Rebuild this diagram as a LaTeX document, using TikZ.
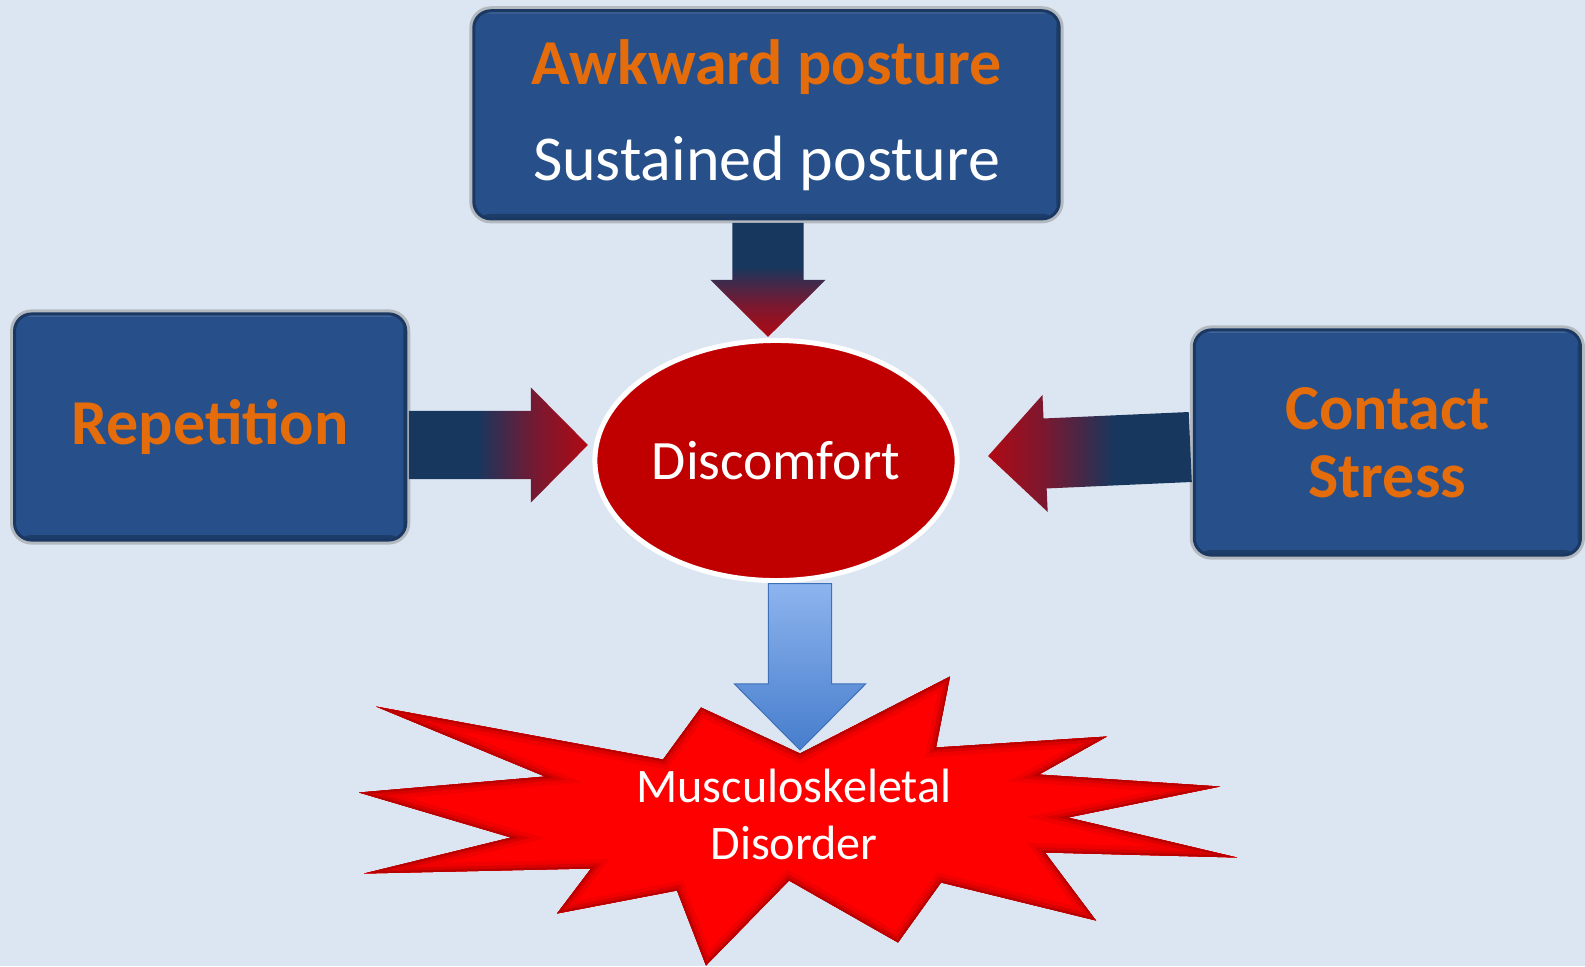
\documentclass[tikz,border=0pt]{standalone}
\usepackage{fontspec}
\setmainfont{Carlito}
\usetikzlibrary{calc}
\usetikzlibrary{shapes, backgrounds}
\usetikzlibrary{positioning}

\definecolor{bgblue}{HTML}{DCE6F2}
\definecolor{boxblue}{HTML}{27508A}
\definecolor{boxline}{HTML}{1A3862}
\definecolor{rimgray}{HTML}{B4B9C0}
\definecolor{accent}{HTML}{E46C0A}
\definecolor{discred}{HTML}{C00000}
\definecolor{arrownavy}{HTML}{17375E}
\definecolor{arrowwine}{HTML}{7A1830}
\definecolor{arrowred}{HTML}{B00A14}
\definecolor{flowtop}{HTML}{8DB4EE}
\definecolor{flowbot}{HTML}{467DCC}
\definecolor{burstred}{HTML}{FF0000}

\pgfdeclarehorizontalshading{navytored}{100bp}{color(0bp)=(arrownavy); color(44bp)=(arrownavy); color(61bp)=(arrowwine); color(75bp)=(arrowred); color(100bp)=(arrowred)}
\pgfdeclarehorizontalshading{redtonavy}{100bp}{color(0bp)=(arrowred); color(25bp)=(arrowred); color(39bp)=(arrowwine); color(56bp)=(arrownavy); color(100bp)=(arrownavy)}
\pgfdeclareverticalshading{navydown}{100bp}{color(0bp)=(arrowred); color(25bp)=(arrowred); color(39bp)=(arrowwine); color(56bp)=(arrownavy); color(100bp)=(arrownavy)}

\tikzset{
    factor/.style={
           rectangle,
           rounded corners=0.17cm,
           fill=boxblue,
           draw=boxline, line width=0.03cm,
           preaction={draw=rimgray, line width=0.09cm},
           path picture={
             \fill[boxline, opacity=0.8] ([yshift=0.05cm]path picture bounding box.south west)
               rectangle (path picture bounding box.south east);
             \fill[boxline, opacity=0.6] ([xshift=-0.03cm]path picture bounding box.north east)
               rectangle (path picture bounding box.south east);
             \fill[white, opacity=0.12] ([yshift=-0.03cm]path picture bounding box.north west)
               rectangle (path picture bounding box.north east);
           },
           text=accent,
           font=\fontsize{18.2}{19.4}\selectfont\bfseries,
           align=center,
           inner sep=0pt, outer sep=0pt,
           },
    symptom/.style={
           ellipse,
           fill=discred,
           draw=white, line width=0.05cm,
           text=white,
           font=\fontsize{15.8}{19}\selectfont,
           minimum width=3.62cm, minimum height=2.40cm,
           inner sep=0pt, outer sep=0pt,
           },
    outcome/.style={
           text=white,
           font=\fontsize{13.7}{16.4}\selectfont,
           align=center,
           },
    burstshape/.style={
           insert path={(-418,-108) -- (-131,-55) -- (-93,-107) -- (6,-61) -- (156,-138)
             -- (142,-67) -- (313,-78) -- (245,-40) -- (426,-28) -- (274,3) -- (443,43)
             -- (251,38) -- (302,106) -- (147,68) -- (104,128) -- (-5,66) -- (-88,151)
             -- (-117,76) -- (-237,99) -- (-203,54) -- (-430,59) -- (-283,23) -- (-435,-22)
             -- (-249,-38) -- cycle},
           },
}

% #1 style, #2 from, #3 tip, #4 shaft half width, #5 head half width, #6 head length
\newcommand{\fatarrow}[6]{%
  \coordinate (hb) at ($(#3)!#6!(#2)$);
  \path[#1] ($(#2)!#4!90:(#3)$) -- ($(hb)!#4!90:(#3)$) -- ($(hb)!#5!90:(#3)$) -- (#3)
     -- ($(hb)!#5!-90:(#3)$) -- ($(hb)!#4!-90:(#3)$) -- ($(#2)!#4!-90:(#3)$) -- cycle;
}

\begin{document}
\begin{tikzpicture}[x=0.01cm, y=-0.01cm]
      \useasboundingbox (0,0) rectangle (1585,966);
      \fill[bgblue] (0,0) rectangle (1585,966);

      \node[symptom] (disc) at (776,460.5) {Discomfort};
      \node[factor, text=white, font=\fontsize{18.2}{27.3}\selectfont,
            minimum width=5.85cm, minimum height=2.08cm]
            (awk) [above=1.215cm of disc, xshift=-0.095cm]
            {{\bfseries\color{accent}Awkward posture}\\Sustained posture};
      \node[factor, minimum width=3.91cm, minimum height=2.26cm]
            (rep) [left=1.89cm of disc, yshift=0.335cm] {Repetition};
      \node[factor, minimum width=3.86cm, minimum height=2.25cm]
            (cs) [right=2.37cm of disc, yshift=0.18cm] {Contact\\Stress};

      % burst under the outcome text
      \coordinate (burst) at ($(disc.center)+(18,354)$);
      \begin{scope}[shift={(burst)}]
        \clip[burstshape];
        \fill[burstred, burstshape];
        \foreach \w/\c in {18/94, 10/85, 4/72}
          \draw[red!\c!black, line width=\w*0.01cm, burstshape];
      \end{scope}
      \node[outcome] (msd) at (burst) {Musculoskeletal\\Disorder};

      % block arrows
      \coordinate (awk-out) at ($(awk.south)+(1.5,4)$);
      \coordinate (disc-in-top) at ($(awk-out |- disc.north)+(0,-3.5)$);
      \coordinate (rep-out) at ($(rep.east)+(3,18)$);
      \coordinate (disc-in-left) at ($(disc.west)+(-7,-15.5)$);
      \coordinate (cs-out) at ($(cs.west)+(-4,4.5)$);
      \coordinate (disc-in-right) at ($(disc.east)+(31,-4.5)$);
      \coordinate (disc-out) at ($(disc.south)+(24,3)$);
      \coordinate (msd-in) at ($(msd.center)+(6,-64.5)$);

      \fatarrow{shade, shading=navydown}{awk-out}{disc-in-top}{0.355cm}{0.575cm}{0.57cm}
      \fatarrow{shade, shading=navytored}{rep-out}{disc-in-left}{0.34cm}{0.575cm}{0.57cm}
      \fatarrow{shade, shading=redtonavy}{cs-out}{disc-in-right}{0.35cm}{0.585cm}{0.57cm}
      \fatarrow{top color=flowtop, bottom color=flowbot, draw=flowbot!90!black,
                line width=0.01cm}{disc-out}{msd-in}{0.315cm}{0.655cm}{0.66cm}
\end{tikzpicture}
\end{document}
